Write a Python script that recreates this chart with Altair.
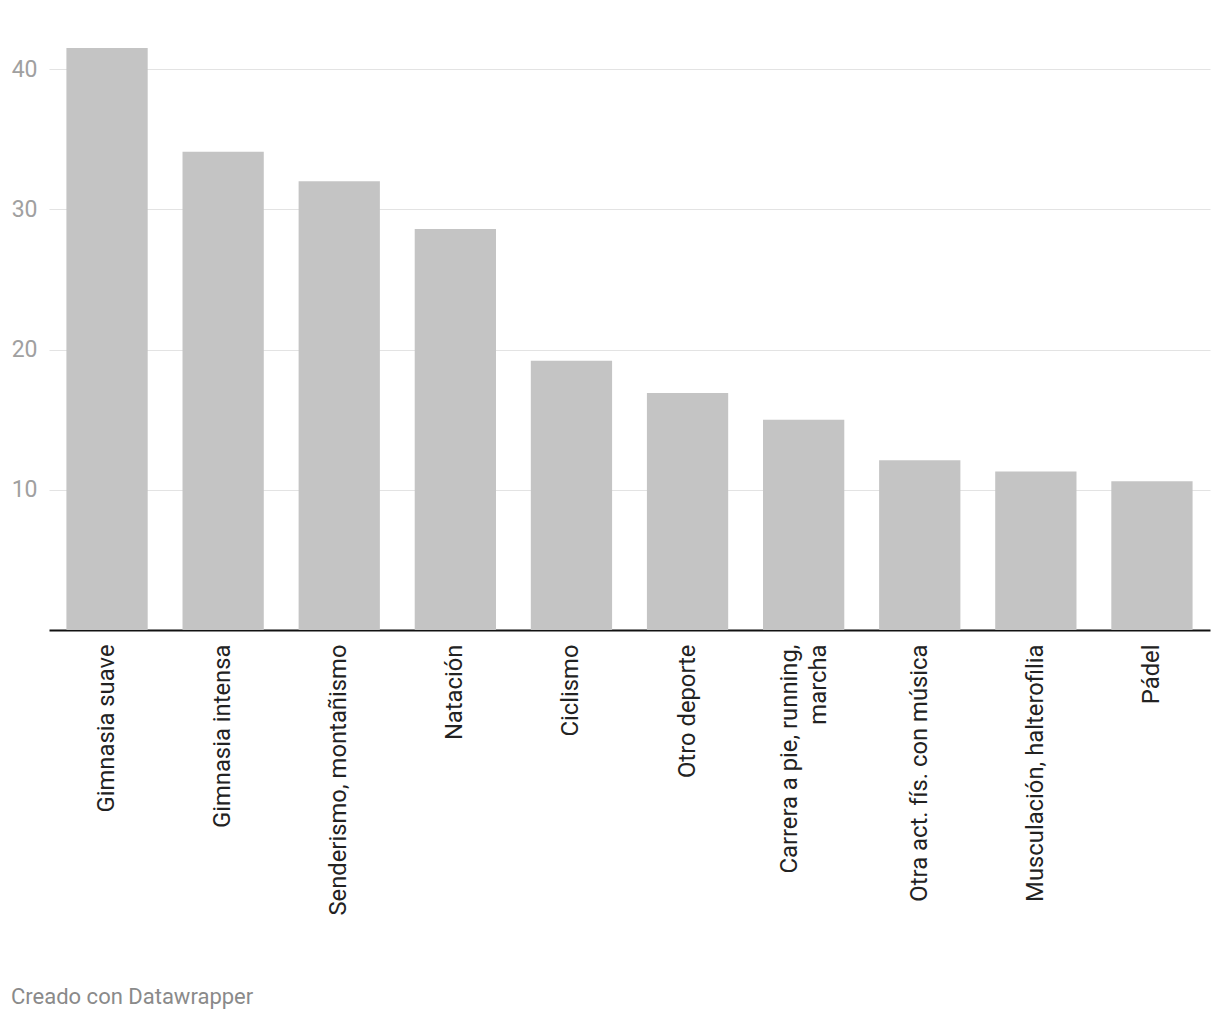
import altair as alt
import pandas as pd

categories = [
    "Gimnasia suave",
    "Gimnasia intensa",
    "Senderismo, montañismo",
    "Natación",
    "Ciclismo",
    "Otro deporte",
    "Carrera a pie, running,|marcha",
    "Otra act. fís. con música",
    "Musculación, halterofilia",
    "Pádel",
]
values = [41.5, 34.1, 32.0, 28.6, 19.2, 16.9, 15.0, 12.1, 11.3, 10.6]
y_ticks = [10, 20, 30, 40]
footer = "Creado con Datawrapper"

df = pd.DataFrame({"cat": categories, "val": values})

FONT = "Roboto"

bars = alt.Chart(df).mark_bar(color="#c4c4c4").encode(
    x=alt.X(
        "cat:N",
        sort=categories,
        title=None,
        scale=alt.Scale(paddingInner=0.3, paddingOuter=0.15),
        axis=alt.Axis(
            labelAngle=-90,
            labelAlign="right",
            labelBaseline="middle",
            labelPadding=14,
            labelFontSize=23.8,
            labelFont=FONT,
            labelColor="#222222",
            labelLineHeight=29,
            labelExpr="split(datum.label, '|')",
            labelOffset={
                "condition": {"test": "indexof(datum.value, '|') >= 0", "value": -14},
                "value": 0,
            },
            ticks=False,
            domainColor="#111111",
            domainWidth=2,
            labelLimit=400,
        ),
    ),
    y=alt.Y(
        "val:Q",
        title=None,
        scale=alt.Scale(domain=[0, 41.5], nice=False, zero=True),
        axis=alt.Axis(
            values=y_ticks,
            domain=False,
            ticks=False,
            labelFontSize=23,
            labelFont=FONT,
            labelColor="#a0a0a0",
            labelPadding=12,
            gridColor="#e3e3e3",
            gridWidth=1,
        ),
    ),
)

foot = alt.Chart(pd.DataFrame({"t": [footer]})).mark_text(
    align="left", baseline="alphabetic", font=FONT, fontSize=22, color="#8a8a8a"
).encode(
    text="t:N",
    x=alt.value(-38),
    y=alt.value(956),
)

chart = (
    alt.layer(bars, foot)
    .properties(
        width=1161,
        height=582,
        autosize=alt.AutoSizeParams(type="none"),
        padding={"left": 49, "top": 48, "right": 10, "bottom": 390},
        background="white",
    )
    .configure_view(strokeWidth=0, stroke="transparent")
)

chart.save("out.html", embed_options={"renderer": "svg", "actions": False})
